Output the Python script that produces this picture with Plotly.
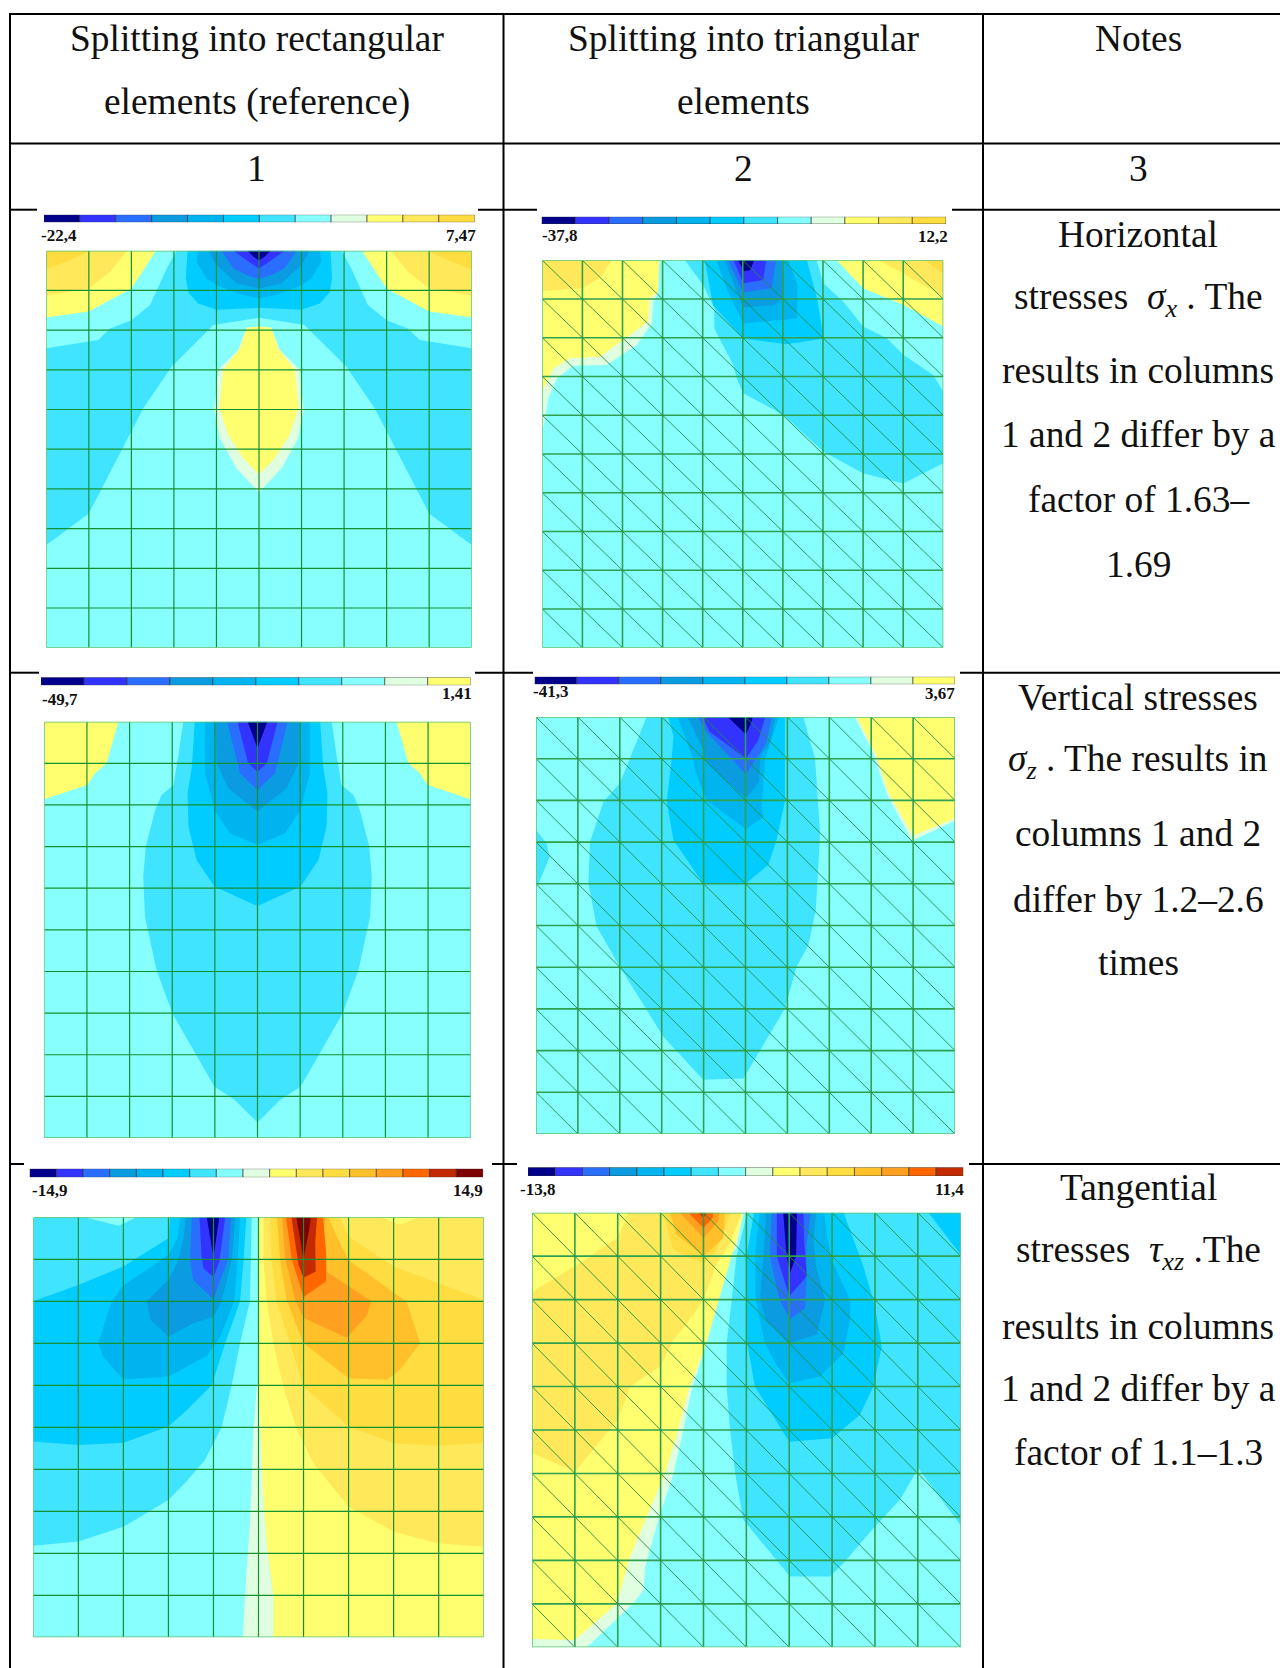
import plotly.graph_objects as go

W, H = 1280, 1668
SERIF = "Liberation Serif"

# stress band colours, lowest to highest
BAND_COLORS = ["#00008b", "#3333ff", "#2a6eff", "#0a9be0", "#00b4f0", "#00ccff", "#40e4ff",
               "#88ffff", "#e0ffe0", "#ffff70", "#ffe95a", "#ffdc40", "#ffc02a", "#ffa020",
               "#ff6600", "#c42a00", "#800000"]
MESH_CELLS = 10

HEADERS = [["Splitting into rectangular", "elements (reference)"],
           ["Splitting into triangular", "elements"],
           ["Notes"]]
HEADER_Y = [39, 102]
COLUMN_NUMBERS = ["1", "2", "3"]
COLUMN_CENTERS = [256.5, 743.5, 1138]
NUMBER_Y = 168

NOTES = [
    ["Horizontal", "stresses  <i>σ<sub>x</sub></i> . The", "results in columns", "1 and 2 differ by a", "factor of 1.63–", "1.69"],
    ["Vertical stresses", "<i>σ<sub>z</sub></i> . The results in", "columns 1 and 2", "differ by 1.2–2.6", "times"],
    ["Tangential", "stresses  <i>τ<sub>xz</sub></i> .The", "results in columns", "1 and 2 differ by a", "factor of 1.1–1.3"],
]
NOTE_Y = [[234, 299, 371, 435, 499, 564],
          [697, 761, 833, 899, 963],
          [1187, 1252, 1326, 1388, 1452]]

# left half of symmetric bands, panel 1 (sigma_x, rectangular)
P1_CENTER = [
    (6, [(5,0),(3.06,0),(2.83,.45),(2.44,1.37),(2.0,1.75),(1.5,1.96),(1.22,2.25),(0,2.46),(0,7.41),(1,6.62),(2.28,3.97),(2.95,2.92),(3.93,1.87),(5,1.69)]),
    (5, [(5,0),(3.32,0),(3.28,.7),(3.34,1.05),(3.57,1.33),(4,1.49),(5,1.44)]),
    (4, [(5,0),(3.57,0),(3.53,.28),(3.77,.7),(4,.87),(4.55,1.1),(5,1.2)]),
    (3, [(5,0),(3.81,0),(4,.36),(4.47,.82),(5,.95)]),
    (2, [(5,0),(4.12,0),(4.4,.45),(4.71,.61),(5,.71)]),
    (1, [(5,0),(4.4,0),(4.71,.24),(5,.45)]),
    (0, [(5,0),(4.73,0),(4.87,.15),(5,.24)]),
    (8, [(5,1.91),(4.71,1.94),(4.51,2.5),(4.04,3.0),(3.95,4.01),(4.08,4.73),(4.47,5.48),(5,6.09)]),
    (9, [(5,1.91),(4.71,1.94),(4.55,2.46),(4.16,3.0),(4.07,3.97),(4.28,4.64),(4.63,5.23),(5,5.63)]),
]
P1_CORNER = [
    (9, [(0,0),(2.58,0),(2.0,.95),(1.5,1.24),(1.0,1.53),(0,1.68)]),
    (10, [(0,0),(1.9,0),(1.5,.53),(1,.95),(0,1.13)]),
    (11, [(0,0),(1.05,0),(.55,.24),(0,.47)]),
]

# panel 2 (sigma_x, triangular)
P2_BANDS = [
    (8, [(0,0),(2.92,0),(2.89,.85),(2.77,1.07),(2.73,1.63),(2.35,2.19),(1.6,2.7),(.77,2.72),(.36,3.05),(.15,3.56),(.04,4.25),(0,4.4)]),
    (9, [(0,0),(2.92,0),(2.88,.83),(2.67,.98),(2.64,1.58),(2.02,2.06),(1.44,2.49),(.69,2.53),(.27,2.79),(.04,3.3),(0,3.4)]),
    (10, [(0,0),(1.73,0),(1.48,.42),(1.02,.72),(0,.79)]),
    (9, [(7.34,0),(8,.72),(9,1.15),(10,1.71),(10,0)]),
    (10, [(8.38,0),(9,.34),(10,.94),(10,0)]),
    (11, [(9.54,0),(10,.34),(10,0)]),
    (6, [(3.56,0),(4.01,.64),(4.29,1.24),(4.29,1.76),(4.76,2.7),(4.85,3.05),(5.01,3.43),(6.01,3.99),(7.01,4.94),(8,5.5),(9,5.76),(10,5.24),(10,3.39),(9.75,2.96),(9,2.44),(8.59,2.01),(8,1.71),(7.51,1.07),(7.01,.59),(6.84,0)]),
    (5, [(4.05,0),(4.26,1.16),(5.01,2.02),(6.1,2.17),(7.02,2.02),(6.85,.98),(6.6,0)]),
    (4, [(4.34,0),(4.63,.81),(5.01,1.63),(6.35,1.5),(6.36,.64),(6.14,0)]),
    (3, [(4.55,0),(4.8,.64),(5.01,1.22),(5.76,1.16),(6,1),(6.03,.47),(5.97,0)]),
    (2, [(4.63,0),(5.01,.83),(5.72,.72),(5.83,0)]),
    (1, [(4.77,0),(5.01,.59),(5.51,.51),(5.58,0)]),
    (0, [(4.88,0),(5.03,.28),(5.19,.25),(5.28,0)]),
]

# left half of symmetric bands, panel 3 (sigma_z, rectangular)
P3_CENTER = [
    (6, [(5,0),(3.26,0),(3.14,.84),(3.03,1.52),(2.75,1.76),(2.6,2.12),(2.38,3.0),(2.32,3.72),(2.36,4.68),(2.63,5.96),(3,7.0),(3.99,8.77),(4.47,9.09),(5,9.63)]),
    (5, [(5,0),(3.53,0),(3.46,1.08),(3.36,1.72),(3.38,2.52),(3.57,3.32),(3.99,3.96),(5,4.43)]),
    (4, [(5,0),(3.77,0),(3.77,1.24),(3.99,2.12),(4.35,2.68),(5,2.96)]),
    (3, [(5,0),(4.02,0),(4.04,1.0),(4.32,1.6),(5,2.16)]),
    (2, [(5,0),(4.29,0),(4.59,1.24),(5,1.64)]),
    (1, [(5,0),(4.53,0),(4.78,1),(5,1.2)]),
    (0, [(5,0),(4.77,0),(5,.64)]),
]
P3_CORNER = [
    (9, [(0,0),(1.74,0),(1.46,1),(1.19,1.24),(1.01,1.52),(0,1.86)]),
]

# panel 4 (sigma_z, triangular)
P4_BANDS = [
    (6, [(2.64,0),(2.4,.59),(2.0,1.59),(1.61,2.03),(1.29,2.99),(1.25,3.99),(1.45,5.03),(2.0,5.99),(3.04,7.67),(3.99,8.7),(4.95,8.67),(5.35,7.99),(5.94,6.99),(6.22,5.99),(6.5,5.47),(6.68,4.63),(6.74,3.67),(6.78,2.79),(6.66,.99),(6.38,0)]),
    (6, [(0,2.71),(.25,3.03),(.33,3.35),(.06,3.99),(0,3.99)]),
    (5, [(3.16,0),(3.28,.47),(3.24,.99),(3.12,2.03),(3.28,2.95),(3.99,3.99),(5.01,3.99),(5.54,3.55),(5.74,2.95),(5.94,2.03),(5.94,0)]),
    (4, [(3.38,0),(3.75,.99),(3.79,1.27),(4.07,1.99),(5.01,2.69),(5.43,2.39),(5.38,2.2),(5.47,1),(5.8,0)]),
    (3, [(3.62,0),(4.0,.8),(4.0,1.0),(4.4,1.4),(5.01,1.95),(5.32,1.55),(5.36,.9),(5.55,.7),(5.72,0)]),
    (2, [(3.86,0),(4.06,.35),(5.01,1.37),(5.39,.8),(5.5,.6),(5.63,0)]),
    (1, [(3.98,0),(4.14,.35),(5.01,1.0),(5.31,.55),(5.47,0)]),
    (0, [(4.58,0),(5.01,.42),(5.15,.11),(5.17,0)]),
    (8, [(7.61,0),(8.05,.87),(8.37,1.83),(8.97,2.97),(10,2.49),(10,0)]),
    (9, [(7.66,0),(8.1,.87),(8.42,1.83),(9.0,2.85),(10,2.43),(10,0)]),
]

# panel 5 (tau_xz, rectangular)
P5_BANDS = [
    (8, [(4.97,3.95),(4.89,5.06),(4.81,7.29),(4.74,8.36),(4.65,10),(5.33,10),(5.33,9.03),(5.18,7.76),(5.11,6.73),(5.02,4.03)]),
    (9, [(5,0),(10,0),(10,10),(5.33,10),(5.33,9.03),(5.18,7.76),(5.11,6.73),(5.02,4.03),(5,3.9)]),
    (10, [(5.11,0),(5.11,1.02),(5.18,1.99),(5.33,3),(5.55,4.03),(5.85,5.06),(6.22,5.86),(7,6.89),(8,7.48),(8.96,7.76),(10,7.84),(10,0)]),
    (9, [(7.74,0),(8.14,.18),(8.55,0)]),
    (11, [(5.26,0),(5.29,1.02),(5.4,1.99),(5.63,2.76),(6,4.03),(7,4.98),(8,5.38),(8.96,5.44),(10,5.37),(10,1.97),(9,1.57),(8,1.17),(7,.46),(6.8,0)]),
    (12, [(5.41,0),(5.48,1.02),(5.63,1.99),(6,3),(7,3.83),(7.85,3.87),(8.14,3.63),(8.59,3),(8.29,2.01),(7,1.02),(6.74,.46),(6.55,0)]),
    (13, [(5.52,0),(5.6,1.0),(5.82,1.99),(6.0,2.4),(6.96,2.87),(7.41,2.33),(7.5,1.99),(6.52,1.3),(6.46,.3),(6.48,0)]),
    (14, [(5.61,0),(5.74,1),(6,1.9),(6.5,1.52),(6.5,.83),(6.43,0)]),
    (15, [(5.73,0),(5.89,1.14),(6,1.44),(6.27,1.29),(6.26,.59),(6.3,0)]),
    (16, [(5.84,0),(6,.98),(6.13,.27),(6.16,0)]),
    (6, [(0,0),(1.15,0),(1.89,.2),(2.3,0),(4.85,0),(4.81,2),(4.59,3),(4.4,4.03),(4.18,5),(3.81,5.78),(3.4,6.29),(3,6.73),(2,7.37),(1,7.72),(0,7.82)]),
    (5, [(0,2.0),(1,1.61),(2,1.17),(3,.5),(3.03,0),(4.73,0),(4.67,1),(4.59,2),(4.26,3),(3.96,4),(3.4,4.6),(3,4.98),(2,5.37),(1,5.42),(0,5.34)]),
    (4, [(1.44,3),(1.74,2),(2,1.62),(3,.9),(3.2,.5),(3.26,0),(4.59,0),(4.54,1),(4.46,2),(4.15,2.85),(3.85,3.3),(3,3.79),(2,3.86),(1.55,3.32)]),
    (3, [(3.39,0),(3.33,.54),(3.22,1.02),(3,1.49),(2.52,2),(2.6,2.44),(3,2.84),(3.55,2.52),(4,2.37),(4.18,2),(4.41,1),(4.48,0)]),
    (2, [(3.52,0),(3.48,1.02),(3.55,1.49),(4,1.95),(4.19,1.38),(4.33,1),(4.39,0)]),
    (1, [(3.69,0),(3.74,1),(3.78,1.22),(4,1.42),(4.13,1.06),(4.26,0)]),
    (0, [(3.85,0),(4,.94),(4.13,0)]),
]

# panel 6 (tau_xz, triangular)
P6_BANDS = [
    (8, [(0,0),(4.93,0),(4.77,.82),(4.54,1.01),(4.35,2.01),(4.07,3.01),(3.72,4.08),(3.53,5),(3.3,6),(2.99,6.92),(2.64,8.14),(2.6,8.68),(2.36,8.99),(1.28,10),(0,10)]),
    (9, [(0,0),(4.93,0),(4.7,.85),(4.35,2.01),(4.04,3.08),(3.65,4.08),(3.41,5),(3.1,6),(2.75,6.84),(2.29,7.91),(1.98,8.99),(1.0,9.83),(0,9.81)]),
    (10, [(2.25,0),(1.98,.59),(1,1.23),(0,1.82),(0,5.53),(1,5.96),(2,4.77),(2.29,4.0),(2.99,3.54),(3.3,2.93),(3.61,2.55),(4,2.01),(4.31,1.17),(4.62,.71),(4.89,0)]),
    (11, [(3.05,0),(3.3,.86),(4,1.17),(4.3,.88),(4.63,0)]),
    (12, [(3.22,0),(3.37,.5),(4,1),(4.46,.58),(4.5,0)]),
    (13, [(3.45,0),(4,.58),(4.35,.19),(4.37,0)]),
    (14, [(3.65,0),(4,.35),(4.21,.12),(4.23,0)]),
    (15, [(3.9,0),(4,.12),(4.07,0)]),
    (6, [(5.02,0),(4.77,1),(4.66,2),(4.54,3),(4.54,4),(4.62,5),(4.74,6),(4.93,7.07),(6.02,8.37),(6.95,8.37),(7.26,8.07),(8,7.22),(8.58,6.61),(9.01,5.88),(10,7.19),(10,0)]),
    (5, [(5.18,0),(5.0,1),(5,2.01),(5.02,3.01),(5.2,4),(6,5.27),(7,5.19),(7.65,4.65),(7.96,4),(8.16,3.08),(8.04,2.39),(7.96,2.01),(7.73,1.24),(7.34,.2),(7.27,0)]),
    (5, [(9.25,0),(10,.97),(10,0)]),
    (4, [(5.31,0),(5.2,1),(5.22,2),(5.43,3),(5.7,3.5),(6,3.93),(6.72,3.77),(7.26,3.24),(7.42,2.47),(7.42,2.01),(6.99,1.09),(6.87,.48),(6.82,0)]),
    (3, [(5.46,0),(5.4,1),(5.32,2),(5.47,2.5),(6,3),(6.64,2.8),(6.84,2),(6.64,1.31),(6.56,.65),(6.63,0)]),
    (2, [(5.59,0),(5.55,1),(5.77,2),(6.02,2.46),(6.37,2.19),(6.41,1.42),(6.4,.8),(6.5,0)]),
    (1, [(5.71,0),(5.71,1),(6,1.92),(6.41,1.46),(6.35,.65),(6.33,0)]),
    (0, [(5.86,0),(5.94,1),(6.02,1.38),(6.16,1),(6.18,0)]),
]


def mirror(points):
    return [(MESH_CELLS - x, y) for x, y in points]


def symmetric(center, corner):
    bands = []
    for band, pts in center:
        bands.append((band, pts + list(reversed(mirror(pts)))))
    for band, pts in corner:
        bands.append((band, pts))
        bands.append((band, mirror(pts)))
    return bands


# pixel layout of each panel: plot box, legend bar, legend labels
PANELS = [
    dict(box=(46.3, 471.7, 250.7, 647.7), bar=(44, 474.7, 214.7, 222.3), n=12, tri=False,
         lo="-22,4", hi="7,47", lo_at=(40.7, 235.7), hi_at=(475.7, 235.7), arrow=-.65,
         bands=symmetric(P1_CENTER, P1_CORNER)),
    dict(box=(542.3, 943.3, 260.3, 647.7), bar=(541.7, 946, 216.7, 224), n=12, tri=True,
         lo="-37,8", hi="12,2", lo_at=(541.7, 235.7), hi_at=(948.3, 236), arrow=-.67,
         bands=P2_BANDS),
    dict(box=(44.3, 470.7, 721.7, 1138), bar=(41, 470.7, 677.3, 685.3), n=10, tri=False,
         lo="-49,7", hi="1,41", lo_at=(41.7, 699), hi_at=(471.7, 693), arrow=-.64,
         bands=symmetric(P3_CENTER, P3_CORNER)),
    dict(box=(536, 955, 717, 1134), bar=(534.7, 955, 676.7, 684.3), n=10, tri=True,
         lo="-41,3", hi="3,67", lo_at=(532.7, 691.7), hi_at=(955, 693), arrow=-.67,
         bands=P4_BANDS),
    dict(box=(33.3, 483.7, 1217.3, 1637.3), bar=(29.7, 483, 1168.7, 1177.3), n=17, tri=False,
         lo="-14,9", hi="14,9", lo_at=(31.7, 1190.7), hi_at=(483.3, 1190.7), arrow=-.73,
         bands=P5_BANDS),
    dict(box=(532, 960.7, 1212.7, 1647.3), bar=(528, 963.3, 1167.3, 1176), n=16, tri=True,
         lo="-13,8", hi="11,4", lo_at=(520.3, 1189), hi_at=(964, 1189.7), arrow=-.67,
         bands=P6_BANDS),
]

# table rules in page pixels
RULES_H = [(14, [(9, 1280)]), (143.6, [(9, 1280)]),
           (209.7, [(9, 37), (478, 537), (952, 1280)]),
           (672.7, [(9, 39), (475, 533), (960, 1280)]),
           (1164, [(9, 24), (492, 517), (969, 1280)])]
RULES_V = [10, 503.5, 983]


def px(x):
    return x / W


def py(y):
    return 1 - y / H


fig = go.Figure()
layout = dict(width=W, height=H, autosize=False, margin=dict(l=0, r=0, t=0, b=0, pad=0),
              paper_bgcolor="white", plot_bgcolor="rgba(0,0,0,0)", showlegend=False,
              barmode="overlay", hovermode=False)
annotations, shapes = [], []


def axis(rng, domain, anchor):
    return dict(range=rng, domain=domain, anchor=anchor, visible=False, fixedrange=True,
                showgrid=False, zeroline=False)


def text(x, y, s, size, anchor="center", bold=False, color="#111111"):
    annotations.append(dict(xref="paper", yref="paper", x=px(x), y=py(y), text=f"<b>{s}</b>" if bold else s,
                            showarrow=False, xanchor=anchor, yanchor="middle", borderpad=0, borderwidth=0,
                            font=dict(family=SERIF, size=size, color=color)))


for i, p in enumerate(PANELS):
    a = 2 * i + 1
    b = 2 * i + 2
    xa, ya = ("x" if a == 1 else f"x{a}"), ("y" if a == 1 else f"y{a}")
    xb, yb = f"x{b}", f"y{b}"
    n_cells = MESH_CELLS
    x0, x1, y0, y1 = p["box"]
    layout["xaxis" if a == 1 else f"xaxis{a}"] = axis([0, n_cells], [px(x0), px(x1)], ya)
    layout["yaxis" if a == 1 else f"yaxis{a}"] = axis([n_cells, 0], [py(y1), py(y0)], xa)
    bx0, bx1, by0, by1 = p["bar"]
    layout[f"xaxis{b}"] = axis([0, p["n"]], [px(bx0), px(bx1)], yb)
    layout[f"yaxis{b}"] = axis([-.5, .5], [py(by1), py(by0)], xb)

    # base colour of the model
    fig.add_trace(go.Scatter(x=[0, n_cells, n_cells, 0], y=[0, 0, n_cells, n_cells], fill="toself",
                             mode="lines", line=dict(width=0), fillcolor=BAND_COLORS[7], xaxis=xa, yaxis=ya))
    for band, pts in p["bands"]:
        fig.add_trace(go.Scatter(x=[q[0] for q in pts], y=[q[1] for q in pts], fill="toself", mode="lines",
                                 line=dict(width=0), fillcolor=BAND_COLORS[band], xaxis=xa, yaxis=ya))

    # finite-element mesh
    mx, my = [], []
    for k in range(1, n_cells):
        mx += [k, k, None, 0, n_cells, None]
        my += [0, n_cells, None, k, k, None]
    mesh_color = "#2ea050" if p["tri"] else "#149030"
    fig.add_trace(go.Scatter(x=mx, y=my, mode="lines", line=dict(color=mesh_color, width=1.6 if p["tri"] else 1.2),
                             xaxis=xa, yaxis=ya))
    if p["tri"]:
        dx, dy = [], []
        for r in range(n_cells):
            for c in range(n_cells):
                dx += [c, c + 1, None]
                dy += [r, r + 1, None]
        fig.add_trace(go.Scatter(x=dx, y=dy, mode="lines", line=dict(color="#1f8f40", width=.9), xaxis=xa, yaxis=ya))
    fig.add_trace(go.Scatter(x=[0, n_cells, n_cells, 0, 0], y=[0, 0, n_cells, n_cells, 0], mode="lines",
                             line=dict(color="#5cc274", width=1.5), cliponaxis=False, xaxis=xa, yaxis=ya))

    # load arrow
    fig.add_trace(go.Scatter(x=[5, 5, None, 4.92, 5, 5.08], y=[p["arrow"], 0, None, -.1, 0, -.1], mode="lines",
                             line=dict(color="#5555b5", width=1), cliponaxis=False, xaxis=xa, yaxis=ya))

    # legend bar
    fig.add_trace(go.Bar(y=[0] * p["n"], x=[1] * p["n"], base=list(range(p["n"])), orientation="h", width=1,
                         marker=dict(color=BAND_COLORS[:p["n"]], line=dict(color="rgba(50,50,50,.7)", width=.9)),
                         xaxis=xb, yaxis=yb))
    text(p["lo_at"][0], p["lo_at"][1], p["lo"], 17, "left", True)
    text(p["hi_at"][0], p["hi_at"][1], p["hi"], 17, "right", True)

for cx, lines in zip(COLUMN_CENTERS, HEADERS):
    for y, s in zip(HEADER_Y, lines):
        text(cx, y, s, 37.4)
for cx, s in zip(COLUMN_CENTERS, COLUMN_NUMBERS):
    text(cx, NUMBER_Y, s, 37.4)
for lines, ys in zip(NOTES, NOTE_Y):
    for y, s in zip(ys, lines):
        text(COLUMN_CENTERS[2], y, s, 37.4)

for y, spans in RULES_H:
    for a, b in spans:
        shapes.append(dict(type="line", xref="paper", yref="paper", x0=px(a), x1=px(b), y0=py(y), y1=py(y),
                           line=dict(color="black", width=2)))
for x in RULES_V:
    shapes.append(dict(type="line", xref="paper", yref="paper", x0=px(x), x1=px(x), y0=py(13), y1=py(H),
                       line=dict(color="black", width=2)))

layout["annotations"] = annotations
layout["shapes"] = shapes
fig.update_layout(**layout)
fig.write_html("out.html", config={"displayModeBar": False},
               post_script="document.body.style.margin='0';document.body.style.overflow='hidden';")
